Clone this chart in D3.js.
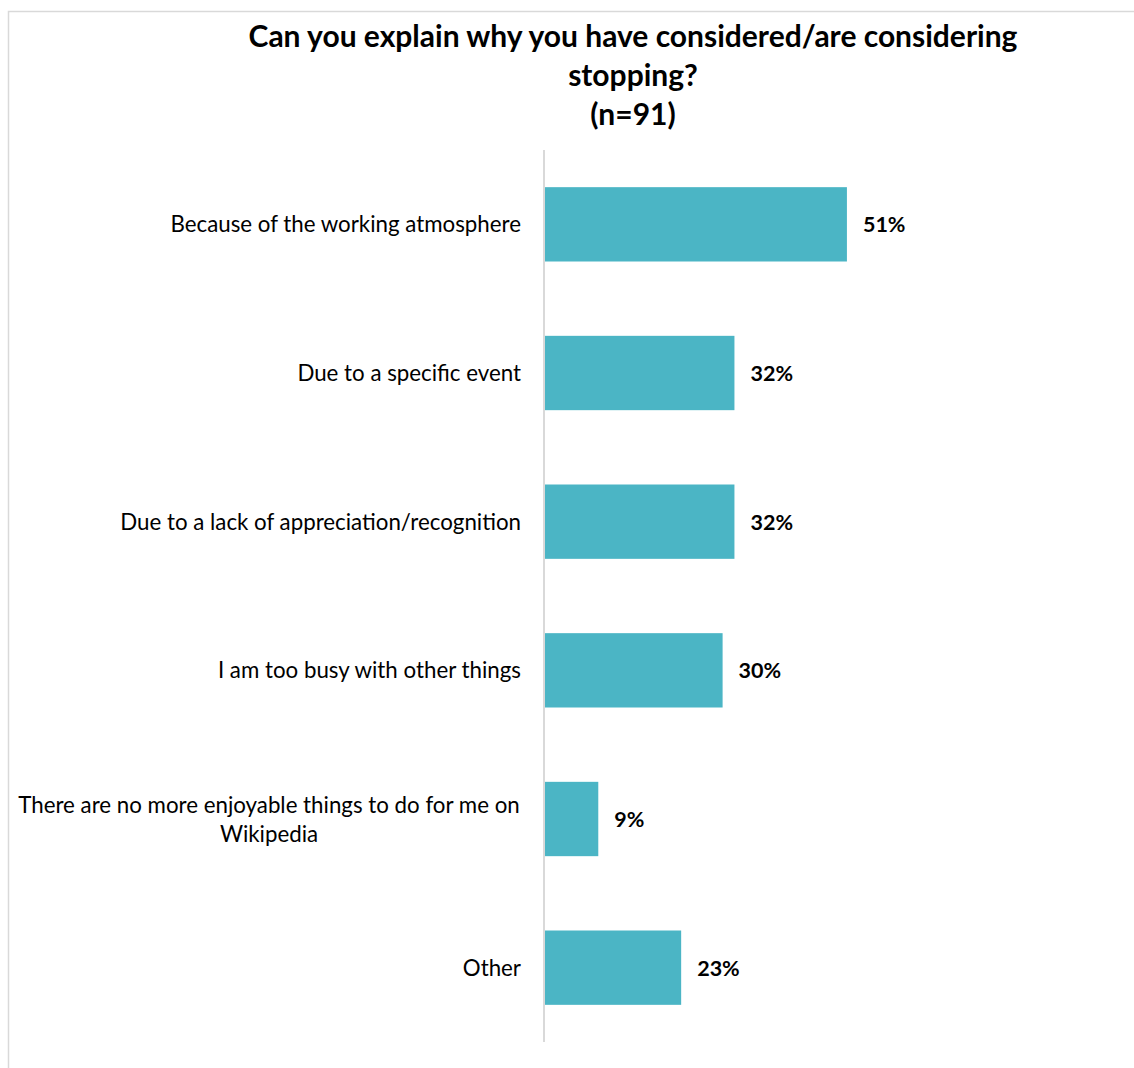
<!DOCTYPE html>
<html>
<head>
<meta charset="utf-8">
<script src="https://cdn.jsdelivr.net/npm/d3@7"></script>
<style>
  body { margin: 0; background: #fff; }
  text { font-family: Lato, "Open Sans", sans-serif; }
</style>
</head>
<body>
<script>
// data
const categories = [
  "Because of the working atmosphere",
  "Due to a specific event",
  "Due to a lack of appreciation/recognition",
  "I am too busy with other things",
  "There are no more enjoyable things to do for me on|Wikipedia",
  "Other"
];
const values = [51, 32, 32, 30, 9, 23];
const titleLines = ["Can you explain why you have considered/are considering", "stopping?", "(n=91)"];

const width = 1134, height = 1068;
const margin = {top: 150, left: 544, bottom: 26};

const svg = d3.select("body").append("svg")
  .attr("width", width)
  .attr("height", height);

// chart border (only top and left show in the crop)
svg.append("path")
  .attr("d", `M8.5,${height} V11.5 H${width}`)
  .attr("fill", "none")
  .attr("stroke", "#d9d9d9")
  .attr("stroke-width", 1.5);

const x = d3.scaleLinear()
  .domain([0, 100])
  .range([margin.left + 1, margin.left + 1 + 592]);

const y = d3.scaleBand()
  .domain(categories)
  .range([margin.top, height - margin.bottom])
  .paddingInner(0.5)
  .paddingOuter(0.25);

// title
svg.append("g").selectAll("text")
  .data(titleLines)
  .join("text")
  .attr("x", 633)
  .attr("y", (d, i) => 47 + i * 39)
  .attr("text-anchor", "middle")
  .style("font-size", "30px")
  .style("font-weight", "bold")
  .style("fill", "#000")
  .text(d => d);

// bars
svg.append("g").selectAll("rect")
  .data(values)
  .join("rect")
  .attr("x", x(0))
  .attr("y", (d, i) => y(categories[i]))
  .attr("width", d => x(d) - x(0))
  .attr("height", y.bandwidth())
  .attr("fill", "#4bb5c5");

// axis line
svg.append("line")
  .attr("x1", margin.left).attr("x2", margin.left)
  .attr("y1", margin.top).attr("y2", height - margin.bottom)
  .attr("stroke", "#d9d9d9")
  .attr("stroke-width", 2);

// category labels
const lab = svg.append("g").selectAll("text")
  .data(categories)
  .join("text")
  .attr("text-anchor", "middle")
  .style("font-size", "22.3px")
  .style("fill", "#000");

lab.each(function(d) {
  const parts = d.split("|");
  const cy = y(d) + y.bandwidth() / 2;
  const t = d3.select(this);
  if (parts.length == 1) {
    t.attr("text-anchor", "end").attr("x", 521).attr("y", cy + 8).text(d);
  } else {
    parts.forEach((p, j) => {
      t.append("tspan")
        .attr("x", 269)
        .attr("y", cy - 6 + j * 29)
        .text(p);
    });
  }
});

// value labels
svg.append("g").selectAll("text")
  .data(values)
  .join("text")
  .attr("x", d => x(d) + 16)
  .attr("y", (d, i) => y(categories[i]) + y.bandwidth() / 2 + 8)
  .style("font-size", "21.5px")
  .style("font-weight", "bold")
  .style("fill", "#000")
  .text(d => d + "%");
</script>
</body>
</html>
